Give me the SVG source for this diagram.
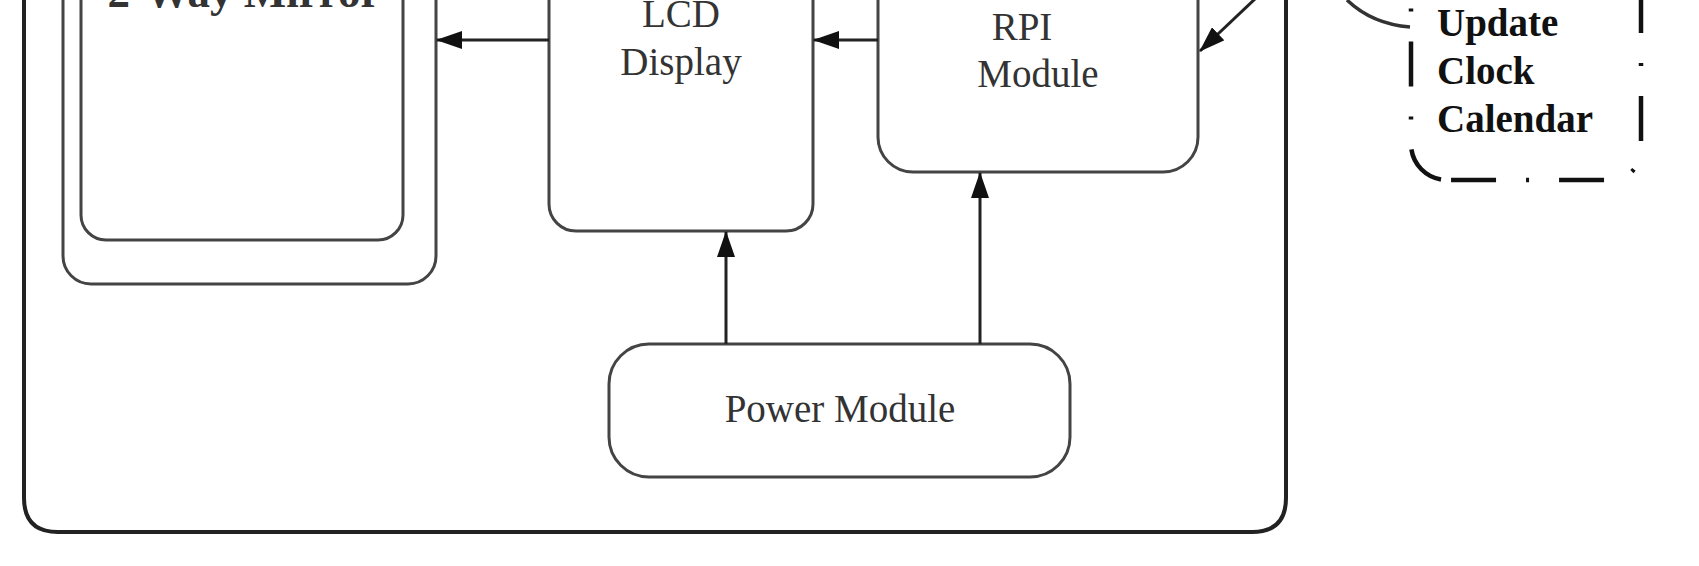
<svg xmlns="http://www.w3.org/2000/svg" width="1699" height="566" viewBox="0 0 1699 566">
<defs>
<style>
.frame{fill:none;stroke:#222;stroke-width:4}
.box{fill:none;stroke:#444;stroke-width:3}
.conn{fill:none;stroke:#222;stroke-width:3}
.dashbox{fill:none;stroke:#111;stroke-width:4.5;stroke-dasharray:45 30 3 30}
.lbl{font-family:"Liberation Serif","Times New Roman",serif;font-size:39px;fill:#333;text-anchor:middle}
.blbl{font-family:"Liberation Serif","Times New Roman",serif;font-size:39px;font-weight:bold;fill:#111}
</style>
<marker id="ah" markerUnits="userSpaceOnUse" viewBox="0 0 26 18" markerWidth="26" markerHeight="18" refX="25" refY="9" orient="auto">
<path d="M0,0 L26,9 L0,18 z" fill="#111"/>
</marker>
</defs>
<rect width="1699" height="566" fill="#fff"/>
<g id="frame">
<path class="frame" d="M24,-20 L24,498 Q24,532 58,532 L1252,532 Q1286,532 1286,498 L1286,-20"/>
</g>
<g id="mirror">
<rect class="box" x="63" y="-60" width="373" height="344" rx="28"/>
<rect class="box" x="81" y="-60" width="322" height="300" rx="25"/>
<text x="244" y="7" style="font-family:'Liberation Serif','Times New Roman',serif;font-size:45px;font-weight:bold;fill:#333;text-anchor:middle">2-Way Mirror</text>
</g>
<g id="lcd">
<rect class="box" x="549" y="-60" width="264" height="291" rx="27"/>
<text class="lbl" x="681" y="27">LCD</text>
<text class="lbl" x="681" y="75">Display</text>
</g>
<g id="rpi">
<rect class="box" x="878" y="-60" width="320" height="232" rx="35"/>
<text class="lbl" x="1022" y="40">RPI</text>
<text class="lbl" x="1038" y="87">Module</text>
</g>
<g id="power">
<rect class="box" x="609" y="344" width="461" height="133" rx="40"/>
<text class="lbl" x="840" y="422">Power Module</text>
</g>
<g id="update">
<path class="dashbox" style="stroke-dashoffset:90" d="M1641,-30 L1641,150 A30,30 0 0 1 1611,180 L1450,180"/>
<path class="dashbox" style="stroke-dashoffset:102" d="M1447,180 A36,36 0 0 1 1411,144 L1411,-30"/>
<path d="M1347,0 Q1372,24 1410,27" fill="none" stroke="#333" stroke-width="3.5"/>
<text class="blbl" x="1437" y="36">Update</text>
<text class="blbl" x="1437" y="84">Clock</text>
<text class="blbl" x="1437" y="132">Calendar</text>
</g>
<g id="connectors">
<line class="conn" x1="549" y1="40" x2="437" y2="40" marker-end="url(#ah)"/>
<line class="conn" x1="878" y1="40" x2="814" y2="40" marker-end="url(#ah)"/>
<line class="conn" x1="726" y1="344" x2="726" y2="232" marker-end="url(#ah)"/>
<line class="conn" x1="980" y1="344" x2="980" y2="173" marker-end="url(#ah)"/>
<line class="conn" x1="1256" y1="-2" x2="1200" y2="51" marker-end="url(#ah)"/>
</g>
</svg>
